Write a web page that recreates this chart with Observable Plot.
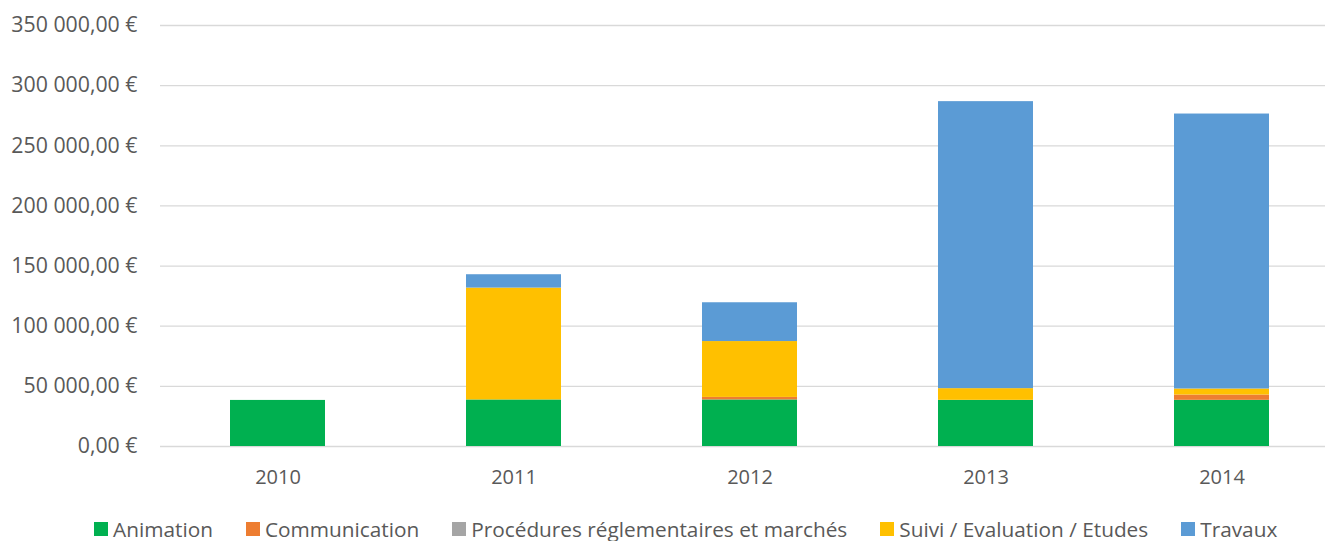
<!DOCTYPE html>
<html>
<head>
<meta charset="utf-8">
<script src="https://cdn.jsdelivr.net/npm/d3@7"></script>
<script src="https://cdn.jsdelivr.net/npm/@observablehq/plot@0.6"></script>
<style>
  body { margin: 0; background: #fff; font-family: "Open Sans", sans-serif; position: relative; width: 1330px; height: 541px; overflow: hidden; }
  #legend { position: absolute; left: 94px; top: 517px; display: flex; gap: 33px; font-size: 20.8px; line-height: 24px; color: #595959; white-space: nowrap; }
  #legend .item { display: flex; align-items: center; }
  #legend span.sw { display: inline-block; width: 14px; height: 14px; margin-right: 5px; }
</style>
</head>
<body>
<div id="chart"></div>
<div id="legend"></div>
<script>
const years = ["2010", "2011", "2012", "2013", "2014"];
const seriesNames = ["Animation", "Communication", "Procédures réglementaires et marchés", "Suivi / Evaluation / Etudes", "Travaux"];
const seriesColors = ["#00B050", "#ED7D31", "#A5A5A5", "#FFC000", "#5B9BD5"];
const animation     = [38300, 38700, 38700, 38400, 38400];
const communication = [0, 0, 2100, 0, 4400];
const procedures    = [0, 0, 0, 0, 0];
const suivi         = [0, 93000, 46450, 9700, 5000];
const travaux       = [0, 11100, 32250, 238600, 228600];
const yTicks = [0, 50000, 100000, 150000, 200000, 250000, 300000, 350000];

const seriesValues = [animation, communication, procedures, suivi, travaux];
const data = [];
seriesNames.forEach((s, i) => years.forEach((y, j) => data.push({year: y, series: s, value: seriesValues[i][j]})));

const fmt = d => d3.format(",.2f")(d).replace(/,/g, "\u00a0").replace(".", ",") + "\u00a0€";

const chart = Plot.plot({
  width: 1330,
  height: 495,
  marginTop: 25,
  marginBottom: 49,
  marginLeft: 160,
  marginRight: 5,
  style: { fontFamily: "'Open Sans', sans-serif", fontSize: "20px", color: "#595959", background: "#fff" },
  x: { domain: years, range: [159.5, 1339.5], paddingInner: 0.597, paddingOuter: 0.2985, label: null },
  y: { domain: [0, 350000], label: null },
  color: { domain: seriesNames, range: seriesColors },
  marks: [
    Plot.gridY(yTicks, { stroke: "#d9d9d9", strokeOpacity: 1, strokeWidth: 1.3 }),
    Plot.barY(data, { x: "year", y: "value", fill: "series", order: seriesNames }),
    Plot.axisY(yTicks, { tickFormat: fmt, tickSize: 0, tickPadding: 23, fontSize: 21.3, label: null }),
    Plot.axisX({ tickSize: 0, tickPadding: 23, fontSize: 20, label: null })
  ]
});
document.getElementById("chart").appendChild(chart);

const legend = document.getElementById("legend");
seriesNames.forEach((s, i) => {
  const item = document.createElement("div");
  item.className = "item";
  item.innerHTML = `<span class="sw" style="background:${seriesColors[i]}"></span><span>${s}</span>`;
  legend.appendChild(item);
});
</script>
</body>
</html>
